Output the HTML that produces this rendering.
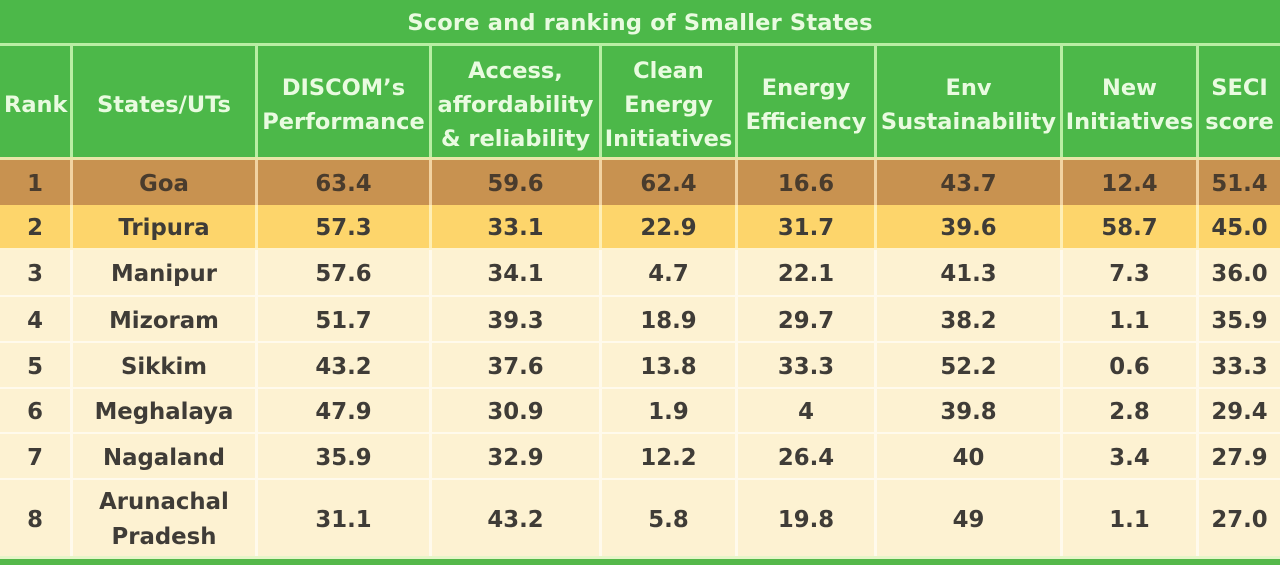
<!DOCTYPE html>
<html>
<head>
<meta charset="utf-8">
<style>
  html,body{margin:0;padding:0;}
  body{width:1280px;height:565px;overflow:hidden;background:#fdf2d2;position:relative;
       font-family:"DejaVu Sans","Liberation Sans",sans-serif;font-weight:bold;}
  .abs{position:absolute;left:0;width:1280px;}
  .title{top:0;height:43px;background:#4cb849;color:#e9fbe0;font-size:22.5px;text-align:center;line-height:47px;letter-spacing:0.2px;}
  .hl{height:3px;}
  .row{display:flex;gap:3px;}
  .row > div{display:flex;align-items:center;justify-content:center;text-align:center;}
  .c1{width:70px}.c2{width:182px}.c3{width:171px}.c4{width:167px}.c5{width:133px}
  .c6{width:136px}.c7{width:183px}.c8{width:133px}.c9{width:81px}
  .hdr{top:46px;height:111px;background:#b9eea4;}
  .hdr > div{background:#4cb849;color:#e9fbe0;font-size:22.5px;line-height:34px;padding-top:6px;box-sizing:border-box;}
  .data > div{font-size:22.8px;color:#3f3c37;padding-top:3px;box-sizing:border-box;}
  .brown{background:#f2d3a2;}
  .brown > div{background:#c89250;color:#4a3c2d;}
  .yellow{background:#ffefb5;}
  .yellow > div{background:#fdd56b;}
  .cream{background:#fffaec;}
  .cream > div{background:#fdf2d2;}
</style>
</head>
<body>
  <div class="abs title">Score and ranking of Smaller States</div>
  <div class="abs hl" style="top:43px;background:#b9eea4;"></div>
  <div class="abs row hdr">
    <div class="c1" style="justify-content:flex-start;padding-left:4px;">Rank</div>
    <div class="c2">States/UTs</div>
    <div class="c3">DISCOM’s<br>Performance</div>
    <div class="c4">Access,<br>affordability<br>&amp; reliability</div>
    <div class="c5">Clean<br>Energy<br>Initiatives</div>
    <div class="c6">Energy<br>Efficiency</div>
    <div class="c7">Env<br>Sustainability</div>
    <div class="c8">New<br>Initiatives</div>
    <div class="c9">SECI<br>score</div>
  </div>
  <div class="abs hl" style="top:157px;background:#e9e6a8;"></div>

  <div class="abs row data brown" style="top:160px;height:45px;">
    <div class="c1">1</div><div class="c2">Goa</div><div class="c3">63.4</div><div class="c4">59.6</div><div class="c5">62.4</div><div class="c6">16.6</div><div class="c7">43.7</div><div class="c8">12.4</div><div class="c9">51.4</div>
  </div>
  <div class="abs row data yellow" style="top:205px;height:43px;">
    <div class="c1">2</div><div class="c2">Tripura</div><div class="c3">57.3</div><div class="c4">33.1</div><div class="c5">22.9</div><div class="c6">31.7</div><div class="c7">39.6</div><div class="c8">58.7</div><div class="c9">45.0</div>
  </div>
  <div class="abs hl" style="top:248px;height:2px;background:#fff4d2;"></div>
  <div class="abs row data cream" style="top:250px;height:45px;">
    <div class="c1">3</div><div class="c2">Manipur</div><div class="c3">57.6</div><div class="c4">34.1</div><div class="c5">4.7</div><div class="c6">22.1</div><div class="c7">41.3</div><div class="c8">7.3</div><div class="c9">36.0</div>
  </div>
  <div class="abs hl" style="top:295px;height:2px;background:#fffaec;"></div>
  <div class="abs row data cream" style="top:297px;height:44px;">
    <div class="c1">4</div><div class="c2">Mizoram</div><div class="c3">51.7</div><div class="c4">39.3</div><div class="c5">18.9</div><div class="c6">29.7</div><div class="c7">38.2</div><div class="c8">1.1</div><div class="c9">35.9</div>
  </div>
  <div class="abs hl" style="top:341px;height:2px;background:#fffaec;"></div>
  <div class="abs row data cream" style="top:343px;height:44px;">
    <div class="c1">5</div><div class="c2">Sikkim</div><div class="c3">43.2</div><div class="c4">37.6</div><div class="c5">13.8</div><div class="c6">33.3</div><div class="c7">52.2</div><div class="c8">0.6</div><div class="c9">33.3</div>
  </div>
  <div class="abs hl" style="top:387px;height:2px;background:#fffaec;"></div>
  <div class="abs row data cream" style="top:389px;height:43px;">
    <div class="c1">6</div><div class="c2">Meghalaya</div><div class="c3">47.9</div><div class="c4">30.9</div><div class="c5">1.9</div><div class="c6">4</div><div class="c7">39.8</div><div class="c8">2.8</div><div class="c9">29.4</div>
  </div>
  <div class="abs hl" style="top:432px;height:2px;background:#fffaec;"></div>
  <div class="abs row data cream" style="top:434px;height:44px;">
    <div class="c1">7</div><div class="c2">Nagaland</div><div class="c3">35.9</div><div class="c4">32.9</div><div class="c5">12.2</div><div class="c6">26.4</div><div class="c7">40</div><div class="c8">3.4</div><div class="c9">27.9</div>
  </div>
  <div class="abs hl" style="top:478px;height:2px;background:#fffaec;"></div>
  <div class="abs row data cream" style="top:480px;height:76px;">
    <div class="c1">8</div><div class="c2" style="line-height:35px;">Arunachal<br>Pradesh</div><div class="c3">31.1</div><div class="c4">43.2</div><div class="c5">5.8</div><div class="c6">19.8</div><div class="c7">49</div><div class="c8">1.1</div><div class="c9">27.0</div>
  </div>
  <div class="abs hl" style="top:556px;background:#e6f5c8;"></div>
  <div class="abs" style="top:559px;height:6px;background:#55b84a;"></div>
</body>
</html>
